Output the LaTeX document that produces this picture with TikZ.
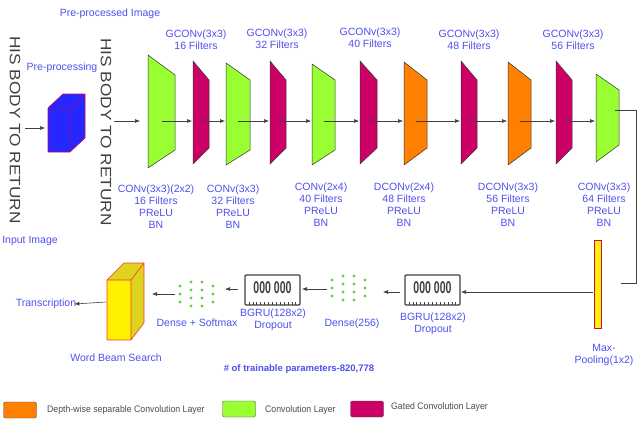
\documentclass[tikz,border=0pt]{standalone}
\usepackage{fontspec}
\setmainfont{Liberation Sans}
\usetikzlibrary{arrows.meta}
\definecolor{gr}{HTML}{99FF33}
\definecolor{mg}{HTML}{CC0066}
\definecolor{og}{HTML}{FF8000}
\definecolor{bl}{HTML}{4F4FEF}
\definecolor{dg}{HTML}{66CC44}
\begin{document}
\begin{tikzpicture}[x=1pt,y=-1pt,
  lbl/.style={text=bl,font=\fontsize{10.5}{12}\selectfont,align=center,inner sep=0pt},
  leg/.style={text=black!70,font=\fontsize{9.5}{12}\selectfont,anchor=west,inner sep=0pt,xscale=0.92},
  arr/.style={draw=black!75,-{Latex[length=5pt,width=4pt]},line width=0.6pt},
  hand/.style={font=\fontsize{15}{15}\selectfont,rotate=-90,inner sep=0pt,text=black!75,xscale=1.15},
  lay/.style={draw=black!80,line width=0.5pt}]
\useasboundingbox (0,0) rectangle (640,423);
\newcommand{\trap}[8]{\path[lay,fill=#1] (#2,#4) -- (#3,#6) -- (#3,#7) -- (#2,#5) -- cycle;
 \coordinate (#8) at ({(#2+#3)/2},121);\coordinate (#8l) at (#2,121);}
\trap{gr}{148}{175}{55}{168}{75}{150}{L1}
\trap{mg}{193}{209}{61}{164}{80}{148}{L2}
\trap{gr}{226}{250}{63}{165}{80}{150}{L3}
\trap{mg}{270}{286}{61}{164}{80}{148}{L4}
\trap{gr}{312}{335}{64}{165}{80}{150}{L5}
\trap{mg}{360}{377}{61}{164}{80}{148}{L6}
\trap{og}{404}{427}{62}{165}{80}{148}{L7}
\trap{mg}{461}{477}{61}{164}{80}{148}{L8}
\trap{og}{508}{531}{62}{165}{80}{148}{L9}
\trap{mg}{556}{572}{61}{164}{80}{148}{L10}
\trap{gr}{596}{619}{74}{162}{90}{145}{L11}
\foreach \a/\b in {L1/L2,L2/L3,L3/L4,L4/L5,L5/L6,L6/L7,L7/L8,L8/L9,L9/L10,L10/L11}
  \draw[arr] (\a) -- ([xshift=-1pt]\b l);
\node[lbl] (t1) at (196,40) {GCONv(3x3)\\16 Filters};
\node[lbl] (t2) at (277,39) {GCONv(3x3)\\32 Filters};
\node[lbl] (t3) at (370,38) {GCONv(3x3)\\40 Filters};
\node[lbl] (t4) at (469,40) {GCONv(3x3)\\48 Filters};
\node[lbl] (t5) at (573,40) {GCONv(3x3)\\56 Filters};
\node[lbl] (b1) at (156,207) {CONv(3x3)(2x2)\\16 Filters\\PReLU\\BN};
\node[lbl] (b2) at (233,207) {CONv(3x3)\\32 Filters\\PReLU\\BN};
\node[lbl] (b3) at (321,205) {CONv(2x4)\\40 Filters\\PReLU\\BN};
\node[lbl] (b4) at (404,205) {DCONv(2x4)\\48 Filters\\PReLU\\BN};
\node[lbl] (b5) at (508,205) {DCONv(3x3)\\56 Filters\\PReLU\\BN};
\node[lbl] (b6) at (604,205) {CONv(3x3)\\64 Filters\\PReLU\\BN};
\node[hand] (in) at (15,130) {HIS BODY TO RETURN};
\node[hand] (pp) at (106,132) {HIS BODY TO RETURN};
\node[lbl] (inl) at (30,241) {Input Image};
\node[lbl] (ppl) at (110,14) {Pre-processed Image};
\node[lbl] (prl) at (62,68) {Pre-processing};
\path[draw=mg,fill=blue!85!white,line width=0.6pt] (48,108) -- (63,94) -- (85,94) -- (85,138) -- (70,152) -- (48,152) -- cycle;
\draw[mg,line width=0.5pt] (48,108) -- (70,108) -- (85,94) (70,108) -- (70,152);
\coordinate (cubeL) at (45,128);
\coordinate (inE) at (25,128);
\coordinate (ppE) at (114,121);
\draw[arr] (inE) -- (cubeL);
\draw[arr] (ppE) -- ([xshift=-8pt]L1l);
\node[draw=mg,fill=yellow,minimum width=7pt,minimum height=88pt,inner sep=0pt,line width=0.6pt] (mp) at (598,284) {};
\node[lbl] (mpl) at (604,355) {Max-\\Pooling(1x2)};
\coordinate (c0) at (615,110);
\coordinate (c1) at (636,110);
\coordinate (c2) at (636,283);
\coordinate (c3) at (621,283);
\draw[black!75,line width=0.6pt] (c0) -- (c1) -- (c2) -- (c3);
\newcommand{\chip}[2]{%
 \path[draw=black!75,fill=white,line width=1.2pt,rounded corners=1pt] (#1,275) -- ++(55,0) -- ++(0,30) -- ++(-55,0) -- cycle;
 \node[inner sep=0pt,font=\bfseries\fontsize{17}{17}\selectfont,text=black!75,xscale=0.62] (#2) at (#1+27.5,288) {000 000};
 \foreach \k in {0,...,12} \draw[black!75,line width=0.7pt] (#1+4+\k*3.9,302) -- ++(0,3);}
\chip{405}{g2}
\chip{245}{g1}
\node[lbl] (g2l) at (433,324) {BGRU(128x2)\\Dropout};
\node[lbl] (g1l) at (273,320) {BGRU(128x2)\\Dropout};
\newcommand{\dense}[3]{%
 \foreach \c/\n in {0/3,1/4,2/4,3/3}{\foreach \r in {1,...,\n}{
   \fill[dg] (#1+\c*11,{#2+(\r-(\n+1)/2)*8}) circle (1.6pt);}}
 \coordinate (#3) at (#1+16,#2);}
\dense{332}{288}{d2}
\dense{180}{294}{d1}
\node[lbl] (d2l) at (352,324) {Dense(256)};
\node[lbl] (d1l) at (197,323) {Dense + Softmax};
\path[fill=yellow] (107,280) -- (131,280) -- (131,340) -- (107,340) -- cycle;
\fill[yellow!85!black] (107,280) -- (124,263) -- (144,263) -- (131,280) -- cycle;
\fill[yellow!85!black] (131,280) -- (144,263) -- (144,323) -- (131,340) -- cycle;
\draw[red!80,line width=0.6pt] (107,280) -- (124,263) -- (144,263) -- (144,323) -- (131,340) -- (107,340) -- cycle (107,280) -- (131,280) -- (144,263) (131,280) -- (131,340);
\coordinate (wb) at (106,302);
\node[lbl] (wbl) at (116,358) {Word Beam Search};
\node[lbl] (tr) at (46,304) {Transcription};
\node[lbl,font=\bfseries\fontsize{9.5}{11}\selectfont] (np) at (299,369) {\# of trainable parameters-820,778};
\draw[arr] ([xshift=-1pt]mp.west |- 0,292) -- (461,292);
\draw[arr] (400,292) -- (383,292);
\draw[arr] (327,289) -- (302,289);
\draw[arr] (238,289) -- (225,289);
\draw[arr] (175,294) -- (152,294);
\draw[arr] (wb) -- ([xshift=-2pt]tr.east);
\node[draw=black!70,fill=og,rounded corners=2pt,minimum width=33pt,minimum height=16pt] (k1) at (20,410) {};
\node[leg] (k1l) at (47,410) {Depth-wise separable Convolution Layer};
\node[draw=black!70,fill=gr,rounded corners=2pt,minimum width=33pt,minimum height=16pt] (k2) at (239,409) {};
\node[leg] (k2l) at (265,410) {Convolution Layer};
\node[draw=black!70,fill=mg,rounded corners=2pt,minimum width=33pt,minimum height=16pt] (k3) at (367,409) {};
\node[leg] (k3l) at (391,407) {Gated Convolution Layer};
\end{tikzpicture}
\end{document}
